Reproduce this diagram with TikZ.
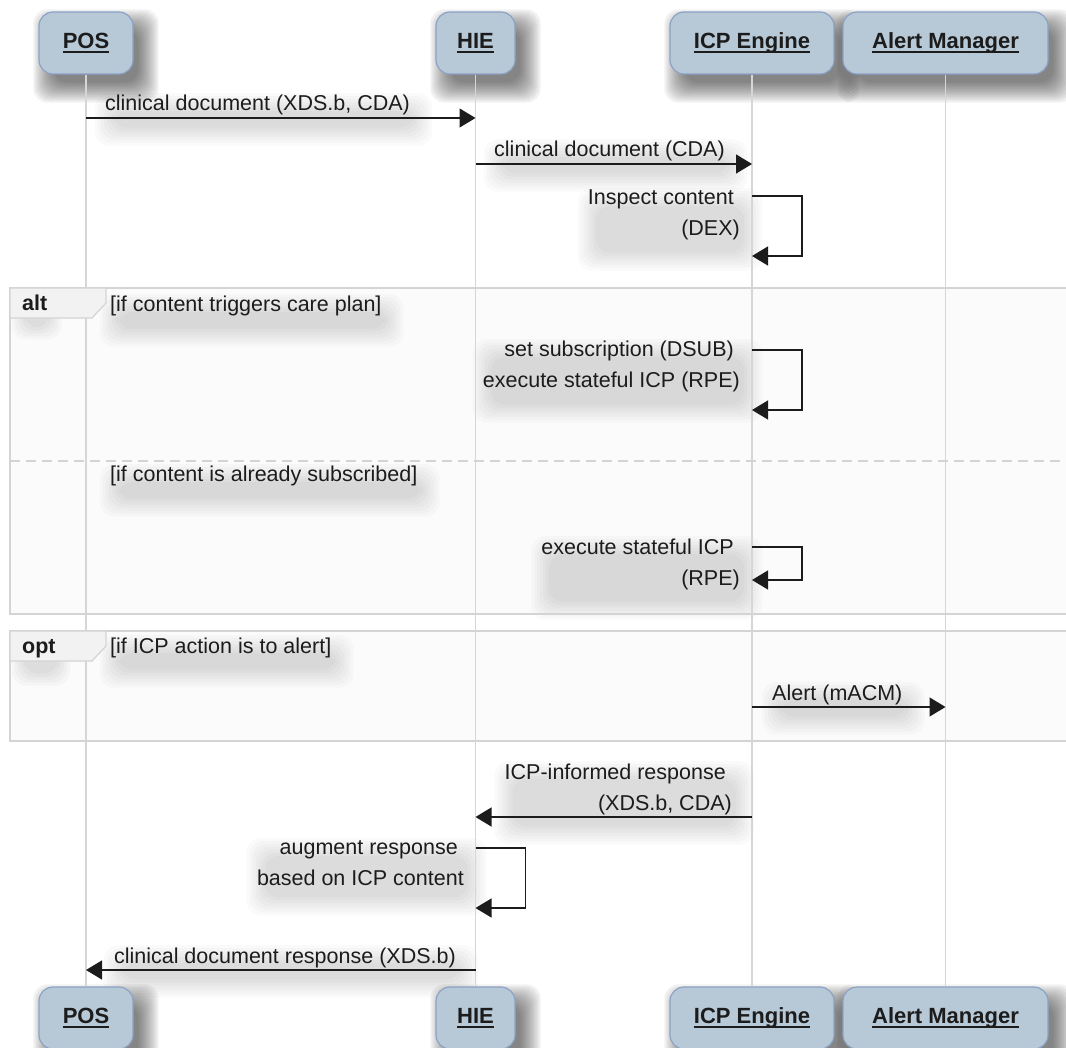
\documentclass[tikz,border=0pt]{standalone}
\usepackage{fontspec}
\setmainfont{Liberation Sans}
\usetikzlibrary{arrows.meta}

\definecolor{boxfill}{RGB}{183,201,215}
\definecolor{boxline}{RGB}{140,162,196}
\definecolor{lifegray}{RGB}{214,214,214}
\definecolor{framegray}{RGB}{212,212,212}
\definecolor{framebody}{RGB}{251,251,251}
\definecolor{tabfill}{RGB}{242,242,242}
\definecolor{ink}{RGB}{28,28,28}

\pgfdeclarelayer{back}
\pgfdeclarelayer{shade}
\pgfsetlayers{back,shade,main}

% bold participant name with a heavy underline
\newcommand\ulbold[1]{\setbox0\hbox{\bfseries #1}\rlap{\rule[-5pt]{\wd0}{2pt}}\box0}

% soft shadow: stacked translucent rounded rectangles around a node
% #1 node, #2 x offset, #3 y offset, #4 list of spreads, #5 opacity per layer
\newcommand\softshade[5]{%
  \foreach \r in {#4} {
    \fill[black, opacity=#5, rounded corners=14pt]
      ([xshift=#2-\r pt, yshift=#3-\r pt]#1.south west) rectangle
      ([xshift=#2+\r pt, yshift=#3+\r pt]#1.north east);
  }}

\tikzset{
  x=1pt, y=-1pt,
  actor/.style={draw=boxline, line width=1.2pt, fill=boxfill, rounded corners=14pt,
    minimum height=62pt, inner sep=0pt, text height=15.5pt, text depth=5pt,
    font=\fontsize{22}{26}\selectfont, text=ink},
  lifeline/.style={draw=lifegray, line width=1.2pt},
  msg/.style={draw=ink, line width=1.3pt, -{Triangle[length=16pt,width=19pt]}},
  lbl/.style={font=\fontsize{21.5}{31}\selectfont, text=ink, inner sep=1pt},
  kw/.style={font=\bfseries\fontsize{21.5}{26}\selectfont, text=ink, inner sep=0pt},
  frameline/.style={draw=framegray, line width=1.2pt},
  tab/.style={frameline, fill=tabfill},
  sep/.style={draw=framegray, line width=1.2pt, dash pattern=on 10pt off 6pt},
}

\begin{document}
\begin{tikzpicture}
\useasboundingbox (0,0) rectangle (1066,1048);
\clip (0,0) rectangle (1066,1048);

\begin{pgfonlayer}{back}
  \fill[white] (0,0) rectangle (1066,1048);
  % fragment bodies
  \fill[framebody] (10,288) rectangle (1075,614);
  \fill[framebody] (10,631) rectangle (1075,741);
\end{pgfonlayer}

% participants, top and bottom
\node[actor, minimum width=94pt]  (posT) at (86,43)    {\ulbold{POS}};
\node[actor, minimum width=79pt]  (hieT) at (475.5,43) {\ulbold{HIE}};
\node[actor, minimum width=164pt] (icpT) at (752,43)   {\ulbold{ICP Engine}};
\node[actor, minimum width=205pt] (almT) at (945.5,43) {\ulbold{Alert Manager}};

\node[actor, minimum width=94pt]  (posB) at (86,1018)    {\ulbold{POS}};
\node[actor, minimum width=79pt]  (hieB) at (475.5,1018) {\ulbold{HIE}};
\node[actor, minimum width=164pt] (icpB) at (752,1018)   {\ulbold{ICP Engine}};
\node[actor, minimum width=205pt] (almB) at (945.5,1018) {\ulbold{Alert Manager}};

% lifelines
\draw[lifeline] (posT.south) -- (posB.north);
\draw[lifeline] (hieT.south) -- (hieB.north);
\draw[lifeline] (icpT.south) -- (icpB.north);
\draw[lifeline] (almT.south) -- (almB.north);

% alt fragment
\draw[frameline] (10,288) rectangle (1075,614);
\draw[tab] (10,288) -- (106,288) -- (106,303) -- (92,318) -- (10,318) -- cycle;
\node[kw, anchor=base west] (altK) at (22,311) {alt};
\node[lbl, anchor=base west] (g1) at (109,312) {[if content triggers care plan]};
\draw[sep] (10,461) -- (1075,461);
\node[lbl, anchor=base west] (g2) at (109,482) {[if content is already subscribed]};

% opt fragment
\draw[frameline] (10,631) rectangle (1075,741);
\draw[tab] (10,631) -- (106,631) -- (106,646) -- (92,661) -- (10,661) -- cycle;
\node[kw, anchor=base west] (optK) at (22,653) {opt};
\node[lbl, anchor=base west] (g3) at (109,653) {[if ICP action is to alert]};

% message labels (multi-line ones are anchored on their last line)
\node[lbl, anchor=base west] (l1) at (104,111) {clinical document (XDS.b, CDA)};
\node[lbl, anchor=base west] (l2) at (493,157) {clinical document (CDA)};
\node[lbl, align=right, anchor=base east] (l3) at (741,236)
  {Inspect content\rule{6pt}{0pt}\\(DEX)};
\node[lbl, align=right, anchor=base east] (l4) at (741,388)
  {set subscription (DSUB)\rule{6pt}{0pt}\\execute stateful ICP (RPE)};
\node[lbl, align=right, anchor=base east] (l5) at (741,585)
  {execute stateful ICP\rule{6pt}{0pt}\\(RPE)};
\node[lbl, anchor=base west] (l6) at (771,700) {Alert (mACM)};
\node[lbl, align=right, anchor=base east] (l7) at (733,810)
  {ICP-informed response\rule{6pt}{0pt}\\(XDS.b, CDA)};
\node[lbl, align=right, anchor=base east] (l8) at (465,885)
  {augment response\rule{6pt}{0pt}\\based on ICP content};
\node[lbl, anchor=base east] (l9) at (457,963) {clinical document response (XDS.b)};

% soft shadows behind boxes, tabs and labels
\begin{pgfonlayer}{shade}
  \foreach \n in {posT,hieT,icpT,almT,posB,hieB,icpB,almB}
    {\softshade{\n}{10pt}{-13pt}{15,13,11,9,7,5,3,1,-1,-3,-5}{0.055}}
  \foreach \n in {altK,optK}
    {\softshade{\n}{2pt}{-16pt}{12,9,6,3,0}{0.025}}
  \foreach \n in {g1,g2,g3,l1,l2,l3,l4,l5,l6,l7,l8,l9}
    {\softshade{\n}{6pt}{-14pt}{15,12,9,6,3,0,-3}{0.02}}
\end{pgfonlayer}

% messages
\draw[msg] (posT |- 0,118) -- (hieT |- 0,118);
\draw[msg] (hieT |- 0,164) -- (icpT |- 0,164);
\draw[msg] (icpT |- 0,196) -- ++(50,0) -- ++(0,60) -- (icpT |- 0,256);
\draw[msg] (icpT |- 0,350) -- ++(50,0) -- ++(0,60) -- (icpT |- 0,410);
\draw[msg] (icpT |- 0,547) -- ++(50,0) -- ++(0,33) -- (icpT |- 0,580);
\draw[msg] (icpT |- 0,707) -- (almT |- 0,707);
\draw[msg] (icpT |- 0,817) -- (hieT |- 0,817);
\draw[msg] (hieT |- 0,848) -- ++(50,0) -- ++(0,60) -- (hieT |- 0,908);
\draw[msg] (hieT |- 0,970) -- (posT |- 0,970);
\end{tikzpicture}
\end{document}
